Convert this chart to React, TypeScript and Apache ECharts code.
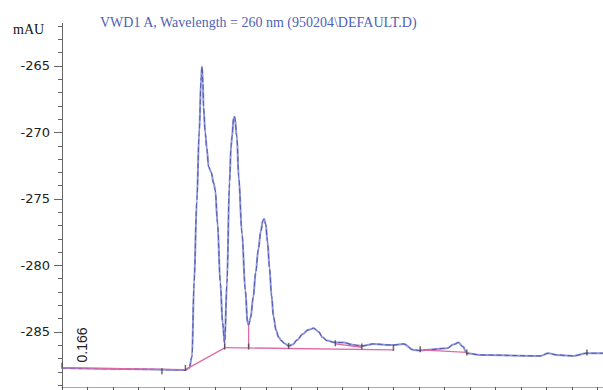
import React, { useEffect, useRef } from "react";
import * as echarts from "echarts";

const titleText = "VWD1 A, Wavelength = 260 nm (950204\\DEFAULT.D)";
const unitText = "mAU";
const peakLabel = "0.166";

const yMajorTicks = [-285, -280, -275, -270, -265];
const yMinorTicks = [-289, -288, -287, -286, -285, -284, -283, -282, -281, -280, -279, -278, -277, -276, -275, -274, -273, -272, -271, -270, -269, -268, -267, -266, -265, -264, -263, -262];
const xTicks = [0, 1, 2, 3, 4, 5, 6, 7, 8, 9, 10, 11, 12, 13, 14, 15, 16, 17, 18, 19, 20, 21];

const signal: [number, number][] = [
  [0, -287.71], [2.48, -287.78], [4.84, -287.86], [4.99, -287.71], [5.1, -286.85],
  [5.18, -281.32], [5.29, -275.08], [5.38, -270.04], [5.46, -265.83], [5.49, -265.05],
  [5.53, -266.3], [5.55, -268.06], [5.62, -270.04], [5.68, -271.2], [5.75, -272.57],
  [5.85, -273.0], [5.95, -273.82], [6.01, -274.32], [6.1, -276.8], [6.21, -281.32],
  [6.3, -284.32], [6.38, -285.85], [6.47, -281.32], [6.57, -273.8], [6.63, -271.07],
  [6.67, -270.3], [6.73, -268.93], [6.77, -268.81], [6.86, -270.32], [6.93, -273.32],
  [7.06, -277.58], [7.19, -281.84], [7.28, -284.35], [7.32, -284.47], [7.4, -283.9],
  [7.5, -282.4], [7.6, -280.5], [7.7, -278.8], [7.8, -277.4], [7.88, -276.63],
  [7.93, -276.5], [7.99, -276.9], [8.06, -278.2], [8.14, -280.2], [8.22, -282.3],
  [8.3, -283.9], [8.4, -284.9], [8.5, -285.4], [8.6, -285.65], [8.72, -285.85],
  [8.89, -286.05], [9.05, -285.95], [9.22, -285.6], [9.45, -285.15], [9.65, -284.85],
  [9.87, -284.72], [10.06, -284.98], [10.22, -285.4], [10.39, -285.65], [10.72, -285.8],
  [11.04, -285.8], [11.44, -285.98], [11.76, -286.05], [12.22, -285.9], [12.87, -285.98],
  [13.0, -285.98], [13.4, -285.9], [13.79, -286.35], [14.05, -286.4], [14.31, -286.35],
  [15.1, -286.23], [15.35, -285.95], [15.55, -285.8], [15.72, -286.1], [15.88, -286.6],
  [16.4, -286.73], [18.75, -286.8], [19.08, -286.6], [19.41, -286.73], [20.06, -286.8],
  [20.59, -286.6], [21.22, -286.6],
];

const baselineSegments: [number, number][][] = [
  [[0, -287.68], [4.84, -287.83]],
  [[4.84, -287.83], [6.4, -286.18]],
  [[6.4, -286.18], [13.0, -286.35]],
  [[10.72, -285.9], [11.76, -286.15]],
  [[14.05, -286.35], [15.88, -286.53]],
  [[6.38, -285.85], [6.38, -286.18]],
  [[7.32, -284.47], [7.32, -286.2]],
];

const integrationMarks: [number, number][] = [
  [0, -287.55], [3.92, -287.95], [4.84, -287.7], [6.38, -286.1], [7.32, -286.1],
  [8.89, -286.05], [10.72, -285.85], [11.76, -286.1], [13.0, -286.2], [14.05, -286.3],
  [15.88, -286.55], [20.59, -286.55],
];

const Y_MIN = -289.14;
const Y_MAX = -261.8;
const X_MIN = 0;
const X_MAX = 21.22;

export default function App() {
  const ref = useRef<HTMLDivElement>(null);
  useEffect(() => {
    if (!ref.current) return;
    const chart = echarts.init(ref.current, undefined, { renderer: "svg" });
    const option: any = {
      animation: false,
      backgroundColor: "#ffffff",
      title: {
        text: titleText,
        left: 95,
        top: 10,
        textStyle: {
          fontFamily: "Liberation Serif",
          fontSize: 14,
          fontWeight: "normal",
          color: "#4f5fb5",
        },
      },
      grid: {
        left: 62,
        right: 0,
        top: 23.4,
        bottom: 3,
        containLabel: false,
        outerBoundsMode: "none",
      },
      xAxis: {
        type: "value",
        min: X_MIN,
        max: X_MAX,
        axisLine: { show: true, lineStyle: { color: "#aaaaaa", width: 1 } },
        axisTick: {
          show: true,
          customValues: xTicks,
          length: 4,
          inside: false,
          lineStyle: { color: "#555555", width: 1 },
        },
        axisLabel: { show: false },
        splitLine: { show: false },
      },
      yAxis: [
        {
          type: "value",
          min: Y_MIN,
          max: Y_MAX,
          position: "left",
          axisLine: { show: true, lineStyle: { color: "#666666", width: 1 } },
          axisTick: {
            show: true,
            customValues: yMinorTicks,
            length: 4,
            lineStyle: { color: "#666666", width: 1 },
          },
          axisLabel: { show: false },
          splitLine: { show: false },
        },
        {
          type: "value",
          min: Y_MIN,
          max: Y_MAX,
          position: "left",
          axisLine: { show: false },
          axisTick: {
            show: true,
            customValues: yMajorTicks,
            length: 8,
            lineStyle: { color: "#666666", width: 1 },
          },
          axisLabel: {
            show: true,
            customValues: yMajorTicks,
            margin: 12,
            fontFamily: "DejaVu Sans",
            fontSize: 13,
            color: "#222222",
          },
          splitLine: { show: false },
        },
      ],
      graphic: [
        {
          type: "text",
          x: 13,
          y: 29,
          style: {
            text: unitText,
            fontFamily: "Liberation Serif",
            fontSize: 14,
            fill: "#111111",
            verticalAlign: "middle",
            align: "left",
          },
        },
        {
          type: "text",
          x: 82,
          y: 345,
          rotation: Math.PI / 2,
          style: {
            text: peakLabel,
            fontFamily: "Liberation Sans",
            fontSize: 14,
            fill: "#222222",
            verticalAlign: "middle",
            align: "center",
          },
        },
      ],
      series: [
        {
          type: "line",
          data: signal,
          showSymbol: false,
          smooth: 0.35,
          smoothMonotone: "x",
          lineStyle: { color: "#9096d9", width: 2 },
          z: 2,
        },
        {
          type: "line",
          data: signal,
          showSymbol: false,
          smooth: 0.35,
          smoothMonotone: "x",
          lineStyle: { color: "#5259ad", width: 1, type: [5, 3] },
          z: 3,
        },
        ...baselineSegments.map((seg) => ({
          type: "line",
          data: seg,
          showSymbol: false,
          lineStyle: { color: "#e06aa8", width: 1.3 },
          z: 4,
        })),
        {
          type: "scatter",
          data: integrationMarks,
          symbol: "rect",
          symbolSize: [1.5, 6],
          itemStyle: { color: "#444444" },
          z: 5,
        },
      ],
    };
    chart.setOption(option);
    return () => chart.dispose();
  }, []);
  return (
    <div
      ref={ref}
      style={{ position: "fixed", left: 0, top: 0, width: 603, height: 390 }}
    />
  );
}
